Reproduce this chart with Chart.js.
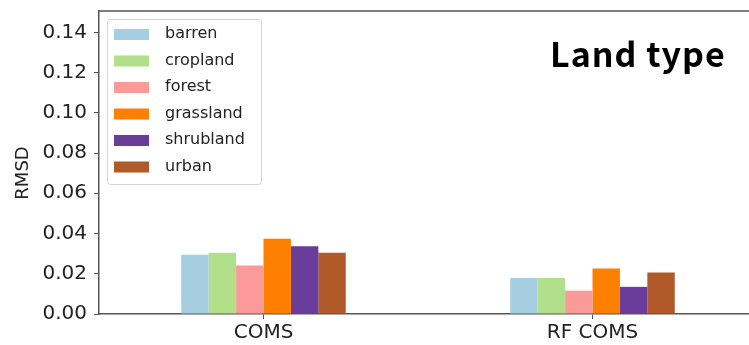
<!DOCTYPE html>
<html lang="en">
<head>
<meta charset="utf-8">
<title>Land type RMSD</title>
<script src="https://cdn.jsdelivr.net/npm/chart.js@4.4.1/dist/chart.umd.min.js"></script>
<style>
  html, body { margin: 0; padding: 0; background: #fff; overflow: hidden; }
  #wrap { width: 760px; height: 345px; }
</style>
</head>
<body>
<div id="wrap"><canvas id="myChart"></canvas></div>
<script>
// data
var products = ['COMS', 'RF COMS'];
var landTypes = ['barren', 'cropland', 'forest', 'grassland', 'shrubland', 'urban'];
var barren    = [0.0294, 0.0179];
var cropland  = [0.0304, 0.0179];
var forest    = [0.0241, 0.0116];
var grassland = [0.0374, 0.0226];
var shrubland = [0.0337, 0.0135];
var urban     = [0.0304, 0.0206];
var yTicks = [0.00, 0.02, 0.04, 0.06, 0.08, 0.10, 0.12, 0.14];

var colors = ['#a6cee3', '#b2df8a', '#fb9a99', '#ff7f00', '#6a3d9a', '#b15928'];
var values = [barren, cropland, forest, grassland, shrubland, urban];

var spine = '#555';
var tickFont = { family: 'DejaVu Sans', size: 20 };

var datasets = landTypes.map(function (name, i) {
  return {
    label: name,
    data: values[i],
    backgroundColor: colors[i],
    borderWidth: 0,
    barPercentage: 1.0,
    categoryPercentage: 0.5
  };
});

// frame, legend box, title and y label
var extras = {
  id: 'extras',
  afterDraw: function (chart) {
    var ctx = chart.ctx, a = chart.chartArea;
    ctx.save();
    ctx.strokeStyle = spine;
    ctx.lineWidth = 1.5;
    ctx.beginPath();
    ctx.moveTo(a.left, a.top);
    ctx.lineTo(a.right, a.top);
    ctx.lineTo(a.right, a.bottom);
    ctx.stroke();

    // legend
    var lx = a.left + 8, ly = a.top + 8, lw = 154, lh = 165;
    ctx.fillStyle = 'rgba(255,255,255,0.85)';
    ctx.strokeStyle = '#d4d4d4';
    ctx.lineWidth = 1;
    ctx.beginPath();
    ctx.roundRect(lx + 0.5, ly + 0.5, lw, lh, 3);
    ctx.fill();
    ctx.stroke();
    ctx.font = '16px "DejaVu Sans"';
    ctx.textBaseline = 'middle';
    chart.data.datasets.forEach(function (ds, i) {
      var cy = a.top + 23 + i * 26.5;
      ctx.fillStyle = ds.backgroundColor;
      ctx.fillRect(lx + 7, cy - 5, 35, 11);
      ctx.fillStyle = '#222';
      ctx.fillText(ds.label, lx + 58, cy);
    });

    // title
    ctx.fillStyle = '#000';
    ctx.font = 'bold 34px "Noto Sans CJK KR"';
    ctx.letterSpacing = '1px';
    ctx.textBaseline = 'alphabetic';
    ctx.textAlign = 'left';
    ctx.fillText('Land type', 550, 67);
    ctx.letterSpacing = '0px';

    // y label
    ctx.translate(23, 173);
    ctx.rotate(-Math.PI / 2);
    ctx.textAlign = 'center';
    ctx.textBaseline = 'middle';
    ctx.fillStyle = '#222';
    ctx.font = '18px "DejaVu Sans"';
    ctx.fillText('RMSD', 0, 0);
    ctx.restore();
  }
};

new Chart(document.getElementById('myChart'), {
  type: 'bar',
  data: { labels: products, datasets: datasets },
  plugins: [extras],
  options: {
    responsive: true,
    maintainAspectRatio: false,
    animation: false,
    layout: { padding: { top: 11, right: 3, left: 0, bottom: 0 } },
    plugins: { legend: { display: false }, tooltip: { enabled: false } },
    scales: {
      x: {
        offset: true,
        grid: { offset: false, drawOnChartArea: false, drawTicks: true, tickLength: 5, color: spine, lineWidth: 1 },
        border: { color: spine, width: 1.5 },
        ticks: { color: '#222', font: tickFont, padding: 2, maxRotation: 0 },
        afterFit: function (s) { s.height = 31; s.paddingLeft = 0; s.paddingRight = 0; }
      },
      y: {
        min: 0,
        max: 0.1506,
        grid: { drawOnChartArea: false, drawTicks: true, tickLength: 5, color: spine, lineWidth: 1 },
        border: { color: spine, width: 1.5 },
        ticks: {
          color: '#222', font: tickFont, padding: 7, includeBounds: false,
          callback: function (v) { return Number(v).toFixed(2); }
        },
        afterBuildTicks: function (s) {
          s.ticks = yTicks.map(function (v) { return { value: v }; });
        },
        afterFit: function (s) { s.width = 99; s.paddingTop = 0; s.paddingBottom = 0; }
      }
    }
  }
});
</script>
</body>
</html>
